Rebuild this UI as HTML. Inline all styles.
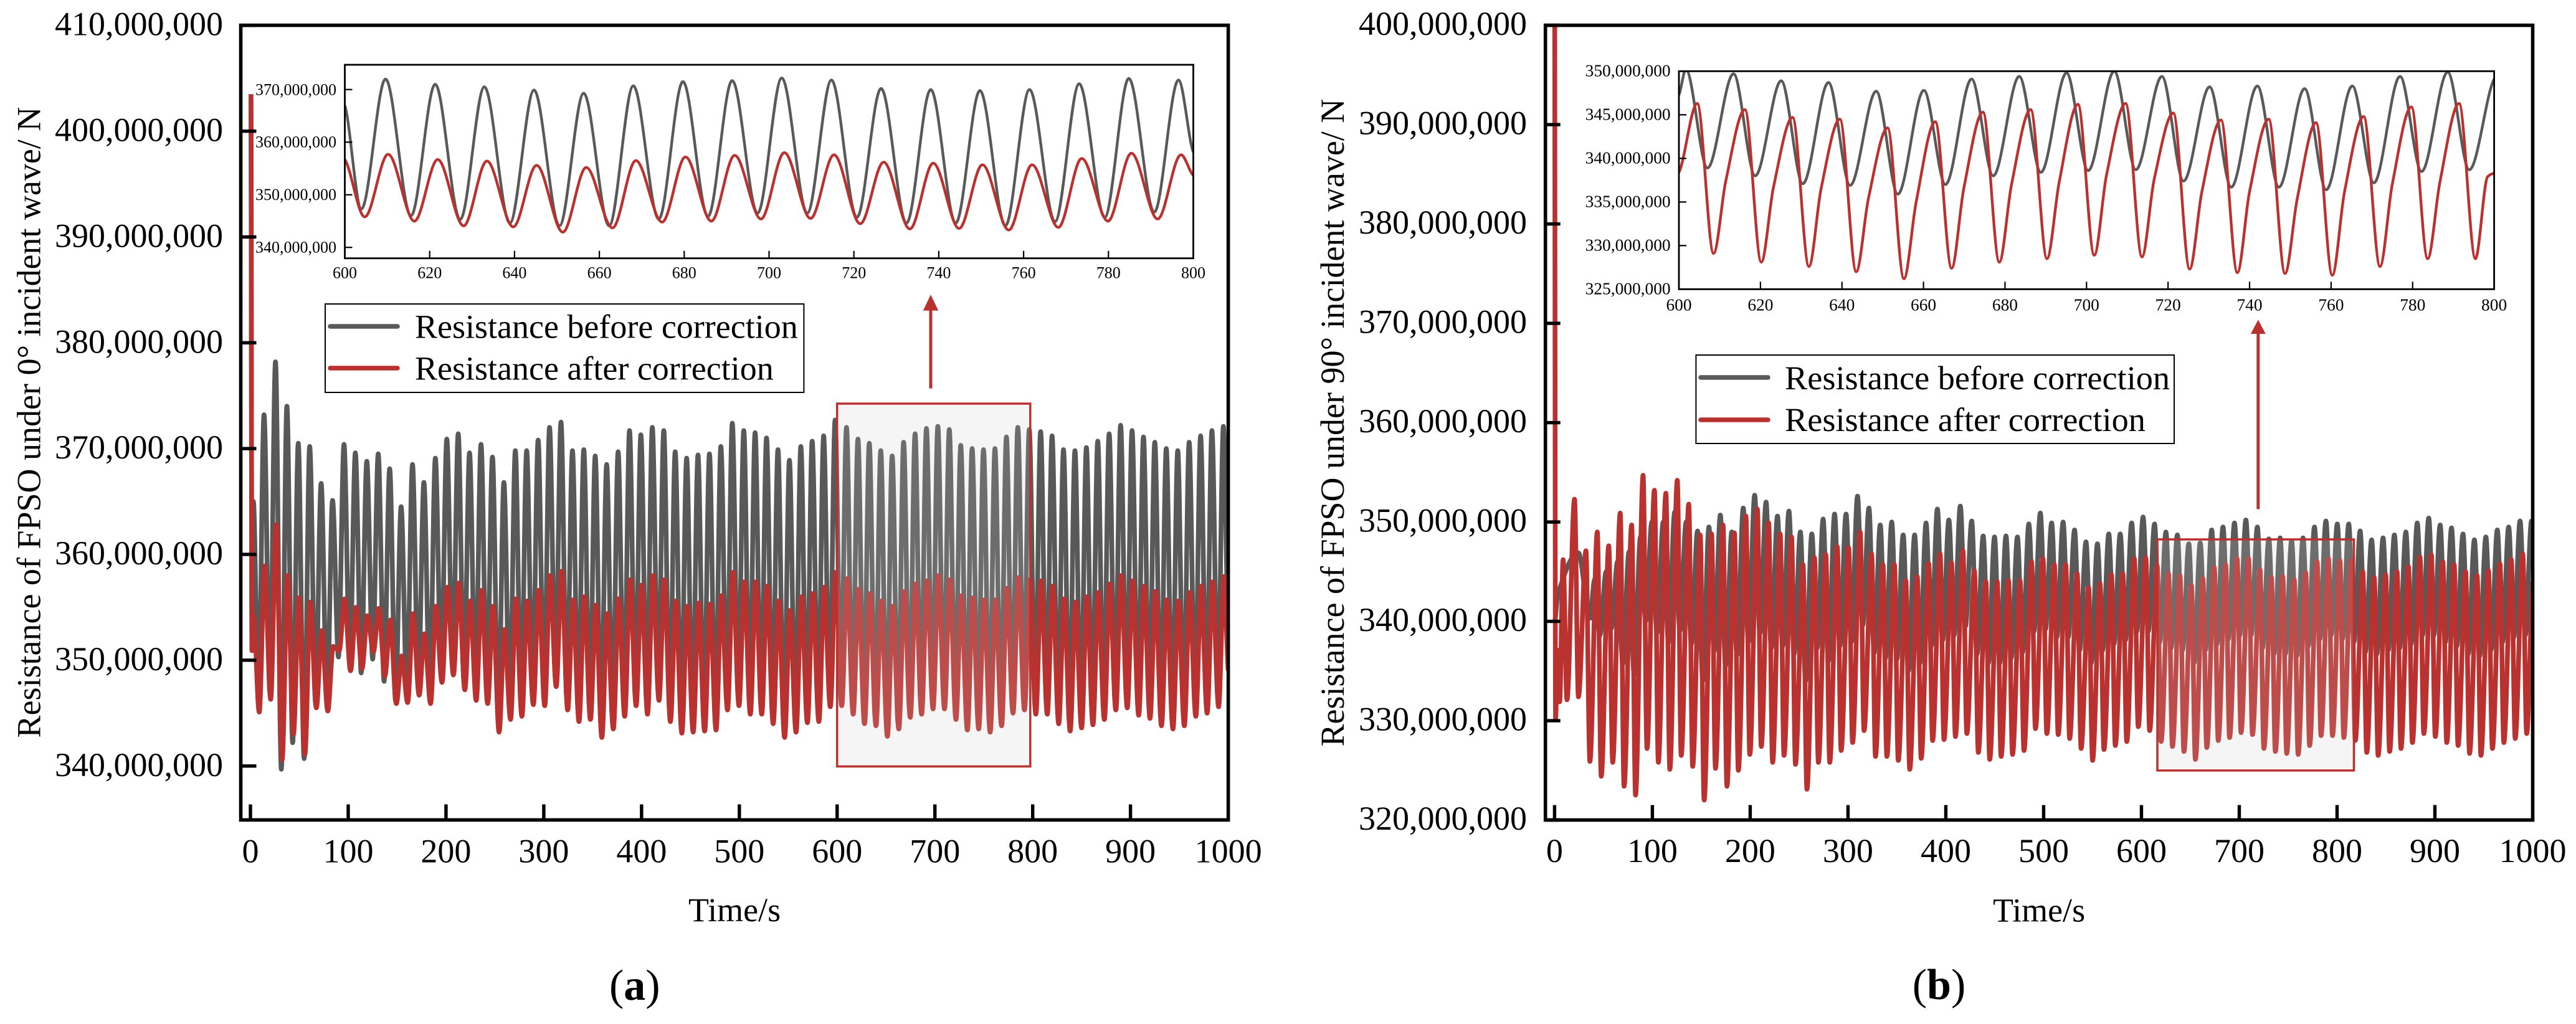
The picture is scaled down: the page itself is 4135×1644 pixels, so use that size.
<!DOCTYPE html>
<html lang="en">
<head>
<meta charset="utf-8">
<title>FPSO resistance before and after correction</title>
<style>
html,body{margin:0;padding:0;background:#fff;}
svg{display:block;}
text{font-family:"Liberation Serif",serif;fill:#000;}
</style>
</head>
<body>
<svg id="figure" xmlns="http://www.w3.org/2000/svg" width="4135" height="1644" viewBox="0 0 4135 1644">
  <rect x="0" y="0" width="4135" height="1644" fill="#fff"/>
  <defs>
    <clipPath id="clip-main-a"><rect x="386.5" y="40.6" width="1585.1" height="1275.8"/></clipPath>
    <clipPath id="clip-main-b"><rect x="2480.7" y="40.6" width="1584.8" height="1275.9"/></clipPath>
    <clipPath id="clip-inset-a"><rect x="553.5" y="104" width="1362" height="310.7"/></clipPath>
    <clipPath id="clip-inset-b"><rect x="2695" y="114.3" width="1308.6" height="350"/></clipPath>
  </defs>

  <g id="panel-a"></g>
  <g id="panel-b"></g>

  <text font-size="54" transform="translate(64.5,1184.5) rotate(-90)">Resistance of FPSO under 0° incident wave/ N</text>
  <text font-size="54" x="1105" y="1479">Time/s</text>
  <text font-size="70" x="1018.8" y="1605" text-anchor="middle">(<tspan font-weight="bold">a</tspan>)</text>

  <g>
    <rect x="522" y="488" width="768.4" height="142" fill="#fff" stroke="#000" stroke-width="2"/>
    <line x1="530" y1="524" x2="638" y2="524" stroke="#595959" stroke-width="7.5" stroke-linecap="round"/>
    <text font-size="54" x="666" y="542.4">Resistance before correction</text>
    <line x1="530" y1="591" x2="638" y2="591" stroke="#ba322f" stroke-width="7.5" stroke-linecap="round"/>
    <text font-size="54" x="666" y="609.4">Resistance after correction</text>
  </g>
  <g>
    <line x1="1494" y1="623.6" x2="1494" y2="496" stroke="#ba322f" stroke-width="5"/>
    <polygon points="1494,473 1481.8,498.6 1506.2,498.6" fill="#ba322f"/>
  </g>

  <text font-size="54" transform="translate(2157,1198.5) rotate(-90)">Resistance of FPSO under 90° incident wave/ N</text>
  <text font-size="54" x="3199" y="1479.6">Time/s</text>
  <text font-size="70" x="3112.5" y="1604" text-anchor="middle">(<tspan font-weight="bold">b</tspan>)</text>

  <g>
    <rect x="2722.4" y="570" width="767.6" height="142" fill="#fff" stroke="#000" stroke-width="2"/>
    <line x1="2730" y1="606" x2="2838" y2="606" stroke="#595959" stroke-width="7.5" stroke-linecap="round"/>
    <text font-size="54.3" x="2865" y="625">Resistance before correction</text>
    <line x1="2730" y1="674" x2="2838" y2="674" stroke="#ba322f" stroke-width="7.5" stroke-linecap="round"/>
    <text font-size="54.3" x="2865" y="692">Resistance after correction</text>
  </g>
  <g>
    <line x1="3624.8" y1="817.4" x2="3624.8" y2="532" stroke="#ba322f" stroke-width="5"/>
    <polygon points="3624.8,513.4 3612.8,536 3636.8,536" fill="#ba322f"/>
  </g>
</svg>

<script>
/* All series values are in millions of newtons, read cycle by cycle from the picture. */
const mainXTicks = [0,100,200,300,400,500,600,700,800,900,1000];
const insetXTicks = [600,620,640,660,680,700,720,740,760,780,800];
const mainYTicksA = [340000000,350000000,360000000,370000000,380000000,390000000,400000000,410000000];
const insetYTicksA = [340000000,350000000,360000000,370000000];
const mainYTicksB = [320000000,330000000,340000000,350000000,360000000,370000000,380000000,390000000,400000000];
const insetYTicksB = [325000000,330000000,335000000,340000000,345000000,350000000];

/* Panel (a), main plot */
const timesA = [13.9,25.6,37.3,48.9,60.6,72.3,84.0,95.7,107.3,119.0,130.7,142.4,154.1,165.7,177.4,189.1,200.8,212.5,224.1,235.8,247.5,259.2,270.9,282.5,294.2,305.9,317.6,329.3,340.9,352.6,364.3,376.0,387.7,399.3,411.0,422.7,434.4,446.1,457.7,469.4,481.1,492.8,504.5,516.1,527.8,539.5,551.2,562.9,574.5,586.2,597.9,609.6,621.3,632.9,644.6,656.3,668.0,679.7,691.3,703.0,714.7,726.4,738.1,749.7,761.4,773.1,784.8,796.5,808.1,819.8,831.5,843.2,854.9,866.5,878.2,889.9,901.6,913.3,924.9,936.6,948.3,960.0,971.7,983.3,995.0];
const grayPeaksA = [373.2,378.2,374.0,370.5,370.2,366.7,365.1,370.4,369.6,368.8,369.5,368.1,364.5,368.5,366.8,369.1,370.9,371.4,369.6,370.4,369.2,366.8,369.8,369.8,370.8,372.0,372.5,369.8,369.9,369.3,368.5,369.7,371.7,371.3,372.0,371.7,369.7,369.1,369.4,369.5,370.2,372.4,371.7,371.5,371.0,369.9,368.9,370.2,370.7,371.2,372.7,372.0,370.9,370.5,369.8,369.3,370.6,371.4,371.9,372.1,371.8,370.3,370.0,369.9,370.0,371.1,372.0,371.8,371.6,371.2,369.9,369.8,370.1,370.7,371.4,372.2,371.7,371.1,370.6,370.0,369.8,370.6,371.2,371.7,372.1];
const grayTroughsA = [345.8,347.0,339.7,342.2,340.7,346.0,345.8,350.3,349.5,348.8,350.1,348.0,346.2,346.9,347.5,346.8,348.6,349.3,348.0,347.1,346.9,344.2,345.3,345.7,346.7,346.6,348.3,346.3,345.2,345.3,343.7,344.5,345.6,346.6,345.8,347.1,345.2,344.1,344.2,344.3,344.4,346.2,346.6,345.9,345.8,345.0,343.7,344.2,345.0,345.2,346.5,347.3,346.0,345.3,344.6,344.1,344.1,345.4,345.9,346.5,346.5,345.7,344.6,344.6,344.1,344.9,345.7,346.7,345.8,345.9,345.0,344.2,344.5,344.9,345.3,346.2,346.5,345.7,345.4,344.7,344.4,344.8,345.6,346.0,346.6];
const redPeaksA = [358.9,362.8,358.0,355.9,355.5,352.8,351.3,355.8,355.0,354.2,354.9,353.8,350.4,354.4,352.5,355.1,356.9,357.3,355.6,356.6,355.1,352.9,355.8,355.6,356.6,358.0,358.4,355.7,356.0,355.2,354.4,355.8,357.6,357.1,358.0,357.6,355.6,355.1,355.4,355.3,356.1,358.3,357.4,357.4,357.0,355.6,354.7,356.0,356.3,356.9,358.3,357.7,356.7,356.3,355.6,355.1,356.5,357.2,357.5,358.0,357.6,356.1,355.9,355.7,355.7,356.8,357.8,357.6,357.5,357.0,355.8,355.5,356.0,356.4,357.2,358.0,357.5,357.0,356.5,355.7,355.6,356.4,357.0,357.4,357.9];
const redTroughsA = [345.1,346.3,340.6,343.0,341.1,345.5,345.2,350.9,349.0,349.2,350.8,348.5,345.9,346.0,346.7,345.9,347.9,348.6,347.2,346.2,345.9,343.2,344.4,344.7,345.8,345.7,347.5,345.3,344.2,344.4,342.7,343.5,344.7,345.7,344.9,346.2,344.2,343.1,343.2,343.3,343.4,345.3,345.7,344.9,344.9,344.0,342.7,343.2,344.1,344.2,345.6,345.7,344.9,344.0,343.8,342.8,343.5,344.6,344.9,345.4,345.4,344.4,343.4,343.5,343.2,343.8,345.0,345.3,344.9,344.9,344.0,343.3,343.6,343.9,344.4,345.3,345.5,344.8,344.5,343.8,343.5,343.8,344.7,345.0,345.6];
const grayStartTA = [0.6,1.5,3.0];
const grayStartVA = [403,351,365];
const redStartTA = [0.6,1.5,3.2];
const redStartVA = [403.5,350.9,354.2];
const grayEndTA = [1000];
const grayEndVA = [352];
const redEndTA = [1000];
const redEndVA = [349];

/* Panel (a), inset */
const insetTimesA = [609.6,621.3,632.9,644.6,656.3,668.0,679.7,691.3,703.0,714.7,726.4,738.1,749.7,761.4,773.1,784.8,796.5];
const insetGrayPeaksA = [372.0,371.0,370.5,369.9,369.3,370.7,371.5,371.7,372.2,371.8,370.2,370.0,369.8,370.0,371.1,372.1,371.8];
const insetGrayTroughsA = [347.3,346.0,345.3,344.6,344.1,344.1,345.4,345.9,346.5,346.5,345.7,344.6,344.6,344.1,344.9,345.7,346.7];
const insetRedPeaksA = [357.7,356.7,356.4,355.6,355.2,356.5,357.2,357.5,358.0,357.6,356.2,356.0,355.7,355.7,356.9,357.9,357.6];
const insetRedTroughsA = [345.8,345.0,344.1,343.9,342.9,343.7,344.8,345.0,345.4,345.5,344.5,343.5,343.6,343.3,343.8,345.0,345.4];
const insetGrayStartTA = [600];
const insetGrayStartVA = [367];
const insetGrayEndTA = [800];
const insetGrayEndVA = [358.1];
const insetRedStartTA = [600];
const insetRedStartVA = [356.7];
const insetRedEndTA = [800];
const insetRedEndVA = [353.7];

/* Panel (b), main plot */
const grayTimesB = [41.0,52.7,64.4,76.1,87.8,99.4,111.1,122.8,134.5,146.2,157.8,169.5,181.2,192.9,204.6,216.2,227.9,239.6,251.3,263.0,274.6,286.3,298.0,309.7,321.4,333.0,344.7,356.4,368.1,379.8,391.4,403.1,414.8,426.5,438.2,449.8,461.5,473.2,484.9,496.6,508.2,519.9,531.6,543.3,555.0,566.6,578.3,590.0,601.7,613.4,625.0,636.7,648.4,660.1,671.8,683.4,695.1,706.8,718.5,730.2,741.8,753.5,765.2,776.9,788.6,800.2,811.9,823.6,835.3,847.0,858.6,870.3,882.0,893.7,905.4,917.0,928.7,940.4,952.1,963.8,975.4,987.1,998.8];
const grayPeaksB = [344.2,345,346,347,348.5,350,350,351,350,349.1,349.5,350.7,349.0,351.4,352.7,352.0,350.6,351.1,349.0,348.8,350.3,350.8,350.8,352.6,351.4,349.7,350.0,348.7,348.7,349.9,351.3,350.2,351.6,350.1,348.6,348.5,348.6,348.5,349.8,350.9,349.9,350.0,349.2,348.0,347.8,348.8,348.8,349.9,350.5,349.8,349.0,348.7,347.8,347.9,349.2,349.5,349.9,350.2,349.5,348.3,348.4,348.1,348.4,349.5,350.1,349.8,349.8,349.1,348.2,348.4,348.7,349.0,349.9,350.4,349.7,349.4,348.8,348.2,348.5,349.2,349.5,350.1,350.1];
const grayTroughsB = [338.6,339.3,335.7,334.6,340,338.8,337.9,339,337.7,334,337,335.5,336.6,337.9,338.8,337.3,337.5,336.7,334.0,337.3,336,337.5,337.9,339.6,336.8,336.3,336.2,335,335.8,337.5,338.1,338.6,339.5,336.7,335.8,335.8,336.3,336.9,339,339.2,338.4,338.4,337.1,335.8,337.1,337.7,338.1,339.0,339.0,337.9,337.3,337.1,335.8,337.1,337.7,338.2,338.6,338.6,337.3,336.7,336.7,336.5,337.5,338.2,338.6,338.2,337.9,336.9,336.7,337.1,337.3,337.7,338.6,338.6,337.9,337.5,336.7,336.5,337.1,337.9,338.4,338.6];
const redTimesB = [8.7,20.4,32.1,43.7,55.4,67.1,78.8,90.5,102.1,113.8,125.5,137.2,148.9,160.5,172.2,183.9,195.6,207.3,218.9,230.6,242.3,254.0,265.7,277.3,289.0,300.7,312.4,324.1,335.7,347.4,359.1,370.8,382.5,394.1,405.8,417.5,429.2,440.9,452.5,464.2,475.9,487.6,499.3,510.9,522.6,534.3,546.0,557.7,569.3,581.0,592.7,604.4,616.1,627.7,639.4,651.1,662.8,674.5,686.1,697.8,709.5,721.2,732.9,744.5,756.2,767.9,779.6,791.3,802.9,814.6,826.3,838.0,849.7,861.3,873.0,884.7,896.4,908.1,919.7,931.4,943.1,954.8,966.5,978.1,989.8];
const redPeaksB = [346.2,352.3,347.1,349.0,347.6,350.9,349.7,354.7,353.2,352.9,354.2,351.8,348.7,348.8,349.7,348.9,350.6,351.3,349.9,348.8,348.5,345.7,346.4,346.7,347.5,347.4,349.0,346.8,345.7,345.7,344.1,344.5,345.8,346.8,345.9,347.1,345.1,344.0,344.0,344.1,344.1,346.0,346.3,345.7,345.7,344.8,343.4,343.8,344.7,344.8,346.3,346.4,345.6,344.8,344.6,343.6,344.3,345.4,345.7,346.3,346.3,345.2,344.4,344.5,344.2,344.9,346.0,346.3,346.1,346.1,345.0,344.4,344.7,345.0,345.5,346.5,346.7,346.0,345.7,345.0,344.6,345.1,345.8,346.2,346.8];
const redTroughsB = [332.1,332.4,325.9,324.4,325.8,323.4,322.5,327.2,325.8,325.1,326.5,325.4,322.0,325.2,323.4,325.0,326.6,327.4,325.8,326.5,325.6,323.1,325.8,325.8,327.0,327.8,329.0,326.4,326.4,326.0,325.1,326.2,328.0,328.1,328.4,328.7,326.8,326.1,326.4,326.6,327.0,329.2,328.7,328.6,328.2,327.2,326.0,327.1,327.5,327.9,329.4,329.0,327.9,327.4,326.9,326.1,327.3,328.0,328.3,328.8,328.6,327.2,326.9,326.7,326.6,327.5,328.5,328.5,328.3,328.0,326.8,326.5,326.9,327.2,327.8,328.7,328.4,327.8,327.5,326.7,326.5,327.2,327.8,328.2,328.7];
const grayStartTB = [0.3,3.2,24.3,36.1];
const grayStartVB = [340,342.6,346.9,340.3];
const redStartTB = [0.1,1.0,3.2,5.2];
const redStartVB = [401,330.2,337.1,331.9];
const grayEndTB = [1000];
const grayEndVB = [349.9];
const redEndTB = [1000];
const redEndVB = [344];

/* Panel (b), inset */
const insetGrayTimesB = [601.7,613.4,625.1,636.7,648.4,660.1,671.8,683.5,695.1,706.8,718.5,730.2,741.9,753.5,765.2,776.9,788.6];
const insetGrayPeaksB = [350.2,349.7,348.9,348.7,347.7,347.8,349.1,349.4,349.8,350.0,349.4,348.2,348.3,348.0,348.3,349.4,349.9];
const insetGrayTroughsB = [338.9,338.0,337.1,336.9,335.9,337.0,338.0,338.4,338.6,338.7,337.4,336.7,336.7,336.4,337.2,338.5,338.7];
const insetRedTimesB = [604.5,616.2,627.9,639.5,651.2,662.9,674.6,686.3,697.9,709.6,721.3,733.0,744.7,756.3,768.0,779.7,791.4];
const insetRedPeaksB = [346.3,345.6,344.7,344.5,343.5,344.2,345.3,345.6,346.2,346.3,345.2,344.4,344.5,344.1,344.8,345.9,346.3];
const insetRedTroughsB = [329.1,328.1,327.6,327.0,326.2,327.4,328.1,328.5,328.9,328.7,327.3,326.9,326.8,326.6,327.6,328.5,328.5];
const insetRedShouldersB = [337.4,336.7,336.6,335.4,335.0,336.6,337.0,337.3,338.1,337.6,336.2,336.2,335.4,336.2,337.0,337.3,337.9];
const insetGrayStartTB = [600];
const insetGrayStartVB = [347.3];
const insetGrayEndTB = [800];
const insetGrayEndVB = [349.1];
const insetRedStartTB = [600];
const insetRedStartVB = [338.4];
const insetRedEndTB = [800];
const insetRedEndVB = [338.3];

const GRAY = '#595959';
const RED = '#ba322f';
const NS = 'http://www.w3.org/2000/svg';
const MAIN_LINE_WIDTH = 7.6;
const INSET_LINE_WIDTH = 4.4;

function el(tag, parent, attrs) {
  const node = document.createElementNS(NS, tag);
  for (const k in attrs) node.setAttribute(k, attrs[k]);
  parent.appendChild(node);
  return node;
}

/* Linear axis function from a domain to a pixel range, given two calibration points. */
function linear(d0, p0, d1, p1) {
  const k = (p1 - p0) / (d1 - d0);
  return function (v) { return p0 + (v - d0) * k; };
}

/* Merge start points, peak / trough groups and end points into a time-ordered list. */
function mergeSeries(startT, startV, groups, endT, endV) {
  const pts = [];
  startT.forEach(function (t, i) { pts.push([t, startV[i]]); });
  groups.forEach(function (g) {
    g.values.forEach(function (v, i) { pts.push([g.times[i] + g.offset, v]); });
  });
  endT.forEach(function (t, i) { pts.push([t, endV[i]]); });
  pts.sort(function (a, b) { return a[0] - b[0]; });
  return pts;
}

/* Monotone cubic path through the points, mapped through the axis functions. */
function curvePath(pts, sx, sy) {
  const xs = pts.map(function (p) { return sx(p[0]); });
  const ys = pts.map(function (p) { return sy(p[1]); });
  const n = xs.length;
  const slopes = [];
  for (let i = 0; i < n - 1; i++) slopes.push((ys[i + 1] - ys[i]) / Math.max(xs[i + 1] - xs[i], 0.01));
  const tang = [];
  for (let i = 0; i < n; i++) {
    if (i === 0) tang.push(slopes[0] * 0.5);
    else if (i === n - 1) tang.push(slopes[n - 2] * 0.5);
    else if (slopes[i - 1] * slopes[i] <= 0) tang.push(0);
    else tang.push(2 * slopes[i - 1] * slopes[i] / (slopes[i - 1] + slopes[i]));
  }
  let d = 'M' + xs[0].toFixed(1) + ' ' + ys[0].toFixed(1);
  for (let i = 0; i < n - 1; i++) {
    const h = (xs[i + 1] - xs[i]) / 3;
    d += 'C' + (xs[i] + h).toFixed(1) + ' ' + (ys[i] + tang[i] * h).toFixed(1) + ' ' +
         (xs[i + 1] - h).toFixed(1) + ' ' + (ys[i + 1] - tang[i + 1] * h).toFixed(1) + ' ' +
         xs[i + 1].toFixed(1) + ' ' + ys[i + 1].toFixed(1);
  }
  return d;
}

function drawAxes(parent, box, xTicks, yTicks, sx, sy, style) {
  const frame = el('rect', parent, {x: box.left, y: box.top, width: box.right - box.left, height: box.bottom - box.top, fill: 'none', stroke: '#000', 'stroke-width': style.frameWidth});
  
  

  xTicks.forEach(function (v) {
    const x = sx(v);
    if (v > xTicks[0] || style.firstXTick) {
      if (v < xTicks[xTicks.length - 1] || style.lastXTick) {
        const tick = el('line', parent, {x1: x, x2: x, y1: box.bottom, y2: box.bottom - style.tickLength, stroke: '#000', 'stroke-width': style.tickWidth});
        
        
      }
    }
    const label = el('text', parent, {x: x, y: style.xLabelBaseline, 'text-anchor': 'middle', 'font-size': style.fontSize});
    label.textContent = String(v);
    
    
  });

  yTicks.forEach(function (v) {
    const y = sy(v / 1e6);
    const tick = el('line', parent, {x1: box.left, x2: box.left + style.tickLength, y1: y, y2: y, stroke: '#000', 'stroke-width': style.tickWidth});
    
    
    const label = el('text', parent, {x: style.yLabelRight, y: y + style.yLabelShift, 'text-anchor': 'end', 'font-size': style.fontSize});
    label.textContent = v.toLocaleString('en-US');
    
    
  });
}

function drawLine(parent, pts, sx, sy, color, width, clip) {
  const path = el('path', parent, {d: curvePath(pts, sx, sy), fill: 'none', stroke: color, 'stroke-width': width, 'stroke-linejoin': 'round', 'clip-path': 'url(#' + clip + ')'});
  return path;
}

function drawHighlight(parent, x, y, w, h) {
  const rect = el('rect', parent, {x: x, y: y, width: w, height: h, fill: 'rgb(200,200,200)', 'fill-opacity': 0.18, stroke: 'none'});
  
  
  const border = el('rect', parent, {x: x, y: y, width: w, height: h, fill: 'none', stroke: RED, 'stroke-width': 3.5});
  
  
}

/* ---------- Panel (a) ---------- */
(function () {
  const g = document.getElementById('panel-a');
  const box = {left: 386.5, right: 1971.6, top: 40.6, bottom: 1316.4};
  const sx = linear(0, 402, 1000, 1971.6);
  const sy = linear(340, 1229.8, 410, 40.7);

  const grayPts = mergeSeries(grayStartTA, grayStartVA, [
    {times: timesA, values: grayPeaksA, offset: 0},
    {times: timesA, values: grayTroughsA, offset: -5.7}
  ], grayEndTA, grayEndVA);
  const redPts = mergeSeries(redStartTA, redStartVA, [
    {times: timesA, values: redPeaksA, offset: 0.6},
    {times: timesA, values: redTroughsA, offset: -4.9}
  ], redEndTA, redEndVA);

  const gray = drawLine(g, grayPts, sx, sy, GRAY, MAIN_LINE_WIDTH, 'clip-main-a');
  
  
  const red = drawLine(g, redPts, sx, sy, RED, MAIN_LINE_WIDTH, 'clip-main-a');
  
  

  drawHighlight(g, 1343.7, 648, 310.1, 582.5);
  drawAxes(g, box, mainXTicks, mainYTicksA, sx, sy, {
    prefix: 'panel-a', frameWidth: 5.6, tickLength: 25, tickWidth: 5.4, fontSize: 54,
    xLabelBaseline: 1384.3, yLabelRight: 358, yLabelShift: 16, firstXTick: true, lastXTick: false
  });

  const inset = el('g', g, {});
  
  
  const ib = {left: 553.5, right: 1915.5, top: 104, bottom: 414.7};
  const ix = linear(600, 553.5, 800, 1915.5);
  const iy = linear(340, 397.2, 370, 143.75);
  const iGray = mergeSeries(insetGrayStartTA, insetGrayStartVA, [
    {times: insetTimesA, values: insetGrayPeaksA, offset: 0},
    {times: insetTimesA, values: insetGrayTroughsA, offset: -5.7}
  ], insetGrayEndTA, insetGrayEndVA);
  const iRed = mergeSeries(insetRedStartTA, insetRedStartVA, [
    {times: insetTimesA, values: insetRedPeaksA, offset: 0.6},
    {times: insetTimesA, values: insetRedTroughsA, offset: -4.9}
  ], insetRedEndTA, insetRedEndVA);
  const ig = drawLine(inset, iGray, ix, iy, GRAY, INSET_LINE_WIDTH, 'clip-inset-a');
  
  
  const ir = drawLine(inset, iRed, ix, iy, RED, INSET_LINE_WIDTH, 'clip-inset-a');
  
  
  drawAxes(inset, ib, insetXTicks, insetYTicksA, ix, iy, {
    prefix: 'panel-a-inset', frameWidth: 2.8, tickLength: 12, tickWidth: 2.2, fontSize: 26,
    xLabelBaseline: 446.5, yLabelRight: 540, yLabelShift: 8.5, firstXTick: false, lastXTick: false
  });
})();

/* ---------- Panel (b) ---------- */
(function () {
  const g = document.getElementById('panel-b');
  const box = {left: 2480.7, right: 4065.5, top: 40.6, bottom: 1316.5};
  const sx = linear(0, 2495.4, 1000, 4065.5);
  const sy = linear(320, 1316.5, 400, 40.6);

  const grayPts = mergeSeries(grayStartTB, grayStartVB, [
    {times: grayTimesB, values: grayPeaksB, offset: 0},
    {times: grayTimesB, values: grayTroughsB, offset: 5.3}
  ], grayEndTB, grayEndVB);
  const redPts = mergeSeries(redStartTB, redStartVB, [
    {times: redTimesB, values: redPeaksB, offset: 0},
    {times: redTimesB, values: redTroughsB, offset: 4}
  ], redEndTB, redEndVB);

  const gray = drawLine(g, grayPts, sx, sy, GRAY, MAIN_LINE_WIDTH, 'clip-main-b');
  
  
  const red = drawLine(g, redPts, sx, sy, RED, MAIN_LINE_WIDTH, 'clip-main-b');
  
  

  drawHighlight(g, 3463, 866, 315.5, 371);
  drawAxes(g, box, mainXTicks, mainYTicksB, sx, sy, {
    prefix: 'panel-b', frameWidth: 5.6, tickLength: 24, tickWidth: 5.4, fontSize: 54,
    xLabelBaseline: 1384, yLabelRight: 2451, yLabelShift: 15.5, firstXTick: true, lastXTick: false
  });

  const inset = el('g', g, {});
  
  
  const ib = {left: 2695, right: 4003.6, top: 114.3, bottom: 464.3};
  const ix = linear(600, 2695, 800, 4003.6);
  const iy = linear(325, 464.3, 350, 114.3);
  const iGray = mergeSeries(insetGrayStartTB, insetGrayStartVB, [
    {times: insetGrayTimesB, values: insetGrayPeaksB, offset: 0},
    {times: insetGrayTimesB, values: insetGrayTroughsB, offset: 5.3}
  ], insetGrayEndTB, insetGrayEndVB);
  const iRed = mergeSeries(insetRedStartTB, insetRedStartVB, [
    {times: insetRedTimesB, values: insetRedPeaksB, offset: 0},
    {times: insetRedTimesB, values: insetRedTroughsB, offset: 4},
    {times: insetRedTimesB, values: insetRedShouldersB, offset: 7}
  ], insetRedEndTB, insetRedEndVB);
  const ig = drawLine(inset, iGray, ix, iy, GRAY, INSET_LINE_WIDTH, 'clip-inset-b');
  
  
  const ir = drawLine(inset, iRed, ix, iy, RED, INSET_LINE_WIDTH, 'clip-inset-b');
  
  
  drawAxes(inset, ib, insetXTicks, insetYTicksB, ix, iy, {
    prefix: 'panel-b-inset', frameWidth: 2.8, tickLength: 12, tickWidth: 2.2, fontSize: 27.4,
    xLabelBaseline: 498.7, yLabelRight: 2681.6, yLabelShift: 8, firstXTick: false, lastXTick: false
  });
})();
</script>
</body>
</html>
